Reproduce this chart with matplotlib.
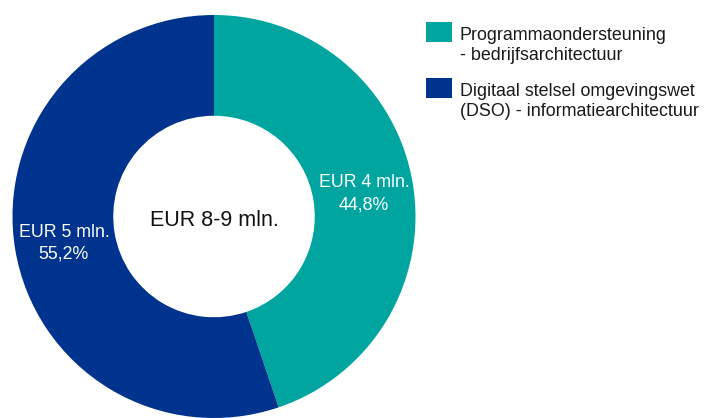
import matplotlib
matplotlib.use("Agg")
import matplotlib.pyplot as plt
from matplotlib.patches import Rectangle
import numpy as np

plt.rcParams['font.family'] = ['Liberation Sans', 'DejaVu Sans']

categories = [["Programmaondersteuning", "- bedrijfsarchitectuur"],
              ["Digitaal stelsel omgevingswet", "(DSO) - informatiearchitectuur"]]
amounts = ["EUR 4 mln.", "EUR 5 mln."]
percentages = [44.8, 55.2]
center_label = "EUR 8-9 mln."
colors = ["#00A5A0", "#00338D"]

W, H = 705, 418
fig = plt.figure(figsize=(W / 100, H / 100), dpi=100)
cx, cy, r = 214, 216.5, 201.5
ax = fig.add_axes([(cx - r) / W, (H - cy - r) / H, 2 * r / W, 2 * r / H])
wedges, _ = ax.pie(percentages, colors=colors, startangle=90, counterclock=False,
                   radius=1, wedgeprops=dict(width=0.5, linewidth=0))
ax.set_xlim(-1, 1)
ax.set_ylim(-1, 1)
ax.set_aspect('equal')
ax.axis('off')

for w, amt, pct in zip(wedges, amounts, percentages):
    ang = np.deg2rad((w.theta1 + w.theta2) / 2)
    pos = (0.755 * np.cos(ang), 0.755 * np.sin(ang))
    pct_txt = f"{pct:.1f}".replace('.', ',') + "%"
    for line, off in ((amt, 4.5), (pct_txt, -17.5)):
        ax.annotate(line, xy=pos, xytext=(0, off), textcoords='offset pixels',
                    ha='center', va='baseline', color='white', fontsize=12.8)

ax.annotate(center_label, xy=(0, 0), xytext=(0, -10), textcoords='offset pixels',
            ha='center', va='baseline', color='#111111', fontsize=15.5)

# Legend
sq_x, sq_w, sq_h = 426, 26, 20
baselines = [40, 96]
for c, lines, b in zip(colors, categories, baselines):
    fig.add_artist(Rectangle((sq_x / W, (H - b - 2) / H), sq_w / W, sq_h / H,
                             facecolor=c, edgecolor='none', transform=fig.transFigure))
    for i, line in enumerate(lines):
        fig.text(459.5 / W, (H - b - 20 * i) / H, line, ha='left', va='baseline',
                 fontsize=12.9, color='#1a1a1a')

fig.savefig("out.png", dpi=100)
